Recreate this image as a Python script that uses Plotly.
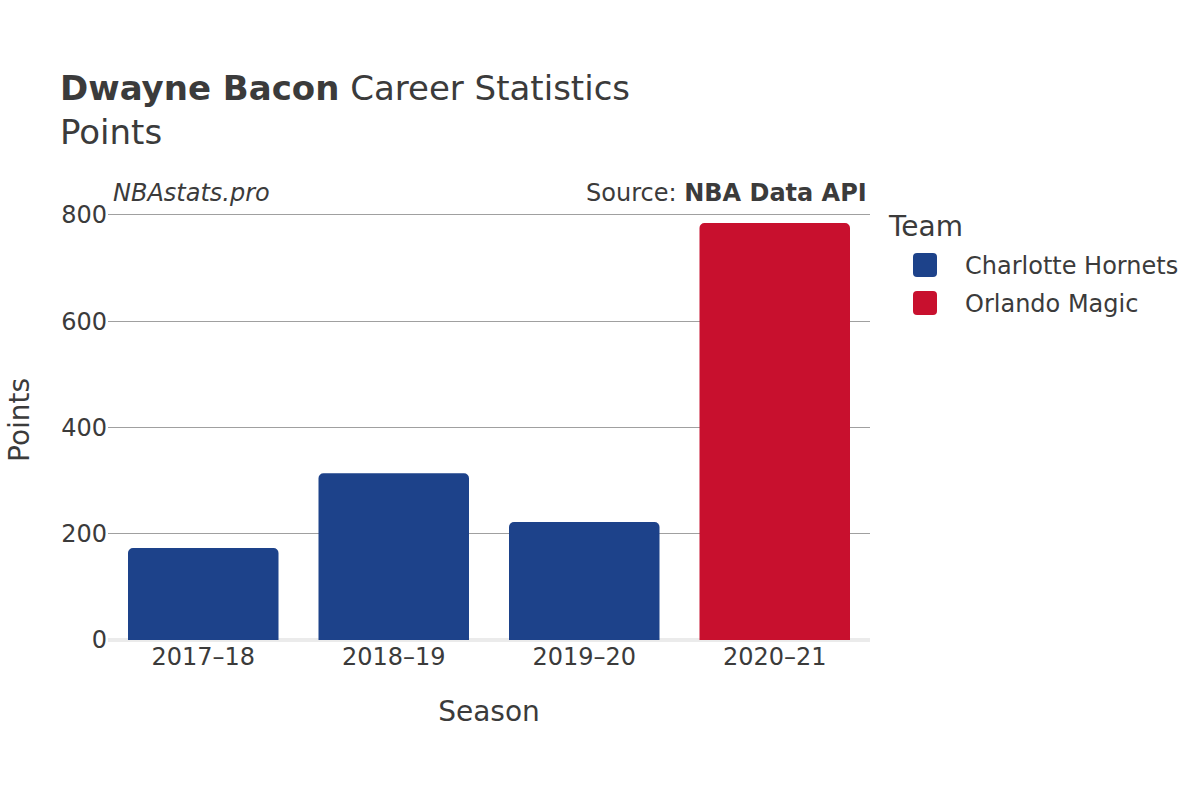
import plotly.graph_objects as go

seasons = ["2017–18", "2018–19", "2019–20", "2020–21"]
teams = ["Charlotte Hornets", "Charlotte Hornets", "Charlotte Hornets", "Orlando Magic"]
points = [173, 314, 222, 785]
team_names = ["Charlotte Hornets", "Orlando Magic"]
team_colors = {"Charlotte Hornets": "#1d428a", "Orlando Magic": "#c8102e"}
y_ticks = [0, 200, 400, 600, 800]

FONT = "DejaVu Sans"
TXT = "#3b3b3b"

OFF = 0  # page body margin removed via post_script
W, H = 1200 - OFF, 800 - OFF
PL, PR, PT, PB = 108, 870, 201, 640  # desired plot area in page pixels


def px(X):
    return (X - PL) / (PR - PL)


def py(Y):
    return (PB - Y) / (PB - PT)


fig = go.Figure()
for team in team_names:
    xs = [s for s, t in zip(seasons, teams) if t == team]
    ys = [p for p, t in zip(points, teams) if t == team]
    fig.add_trace(go.Bar(
        x=xs, y=ys, name=team, showlegend=False,
        marker=dict(color=team_colors[team], cornerradius=5, line=dict(width=0)),
    ))

# custom legend (larger symbols)
sq = ("M -8,-12 H 8 Q 12,-12 12,-8 V 8 Q 12,12 8,12 H -8 Q -12,12 -12,8 "
      "V -8 Q -12,-12 -8,-12 Z")
shapes = []
annotations = [
    dict(text="Team", x=px(886), y=py(226), xref="paper", yref="paper",
         xanchor="left", yanchor="middle", showarrow=False,
         font=dict(size=28, family=FONT, color=TXT)),
]
for i, team in enumerate(team_names):
    cy = [265, 303][i]
    shapes.append(dict(
        type="path", path=sq, xref="paper", yref="paper",
        xsizemode="pixel", ysizemode="pixel", xanchor=px(925), yanchor=py(cy),
        fillcolor=team_colors[team], line=dict(width=0),
    ))
    annotations.append(dict(
        text=team, x=px(963), y=py(cy + 1), xref="paper", yref="paper",
        xanchor="left", yanchor="middle", showarrow=False,
        font=dict(size=24, family=FONT, color=TXT)))

annotations += [
    dict(text="<i>NBAstats.pro</i>", x=0, xref="paper", xanchor="left", xshift=3,
         y=1, yref="paper", yanchor="bottom", yshift=-8, showarrow=False,
         font=dict(size=24, family=FONT, color=TXT)),
    dict(text="Source: <b>NBA Data API</b>", x=1, xref="paper", xanchor="right", xshift=-1,
         y=1, yref="paper", yanchor="bottom", yshift=-8, showarrow=False,
         font=dict(size=24, family=FONT, color=TXT)),
    # y-axis title
    dict(text="Points", x=px(19), y=py(420), xref="paper", yref="paper",
         xanchor="center", yanchor="middle", textangle=-90, showarrow=False,
         font=dict(size=28, family=FONT, color=TXT)),
]

fig.update_layout(
    width=W, height=H,
    barmode="overlay",
    bargap=0.21,
    plot_bgcolor="white", paper_bgcolor="white",
    font=dict(family=FONT, color=TXT, size=24),
    margin=dict(l=PL - OFF, r=W - (PR - OFF), t=PT - OFF, b=H - (PB - OFF), autoexpand=False),
    showlegend=False,
    title=dict(
        text="<b>Dwayne Bacon</b> Career Statistics<br>Points",
        x=(60 - OFF) / W, xanchor="left", xref="container",
        y=1 - (100 - OFF) / H, yanchor="top", yref="container",
        font=dict(size=34, family=FONT, color=TXT),
    ),
    xaxis=dict(
        categoryorder="array", categoryarray=seasons,
        title=dict(text="Season", font=dict(size=28), standoff=31),
        tickfont=dict(size=24), ticks="", showgrid=False, automargin=False,
    ),
    yaxis=dict(
        autorange=True, tickvals=y_ticks,
        tickfont=dict(size=24), automargin=False,
        showgrid=True, gridcolor="#a0a0a0", gridwidth=1,
        zeroline=True, zerolinecolor="#ebebeb", zerolinewidth=4,
        ticks="", showline=False,
    ),
    shapes=shapes,
    annotations=annotations,
)

fig.write_html(
    "out.html",
    config={"displayModeBar": False},
    post_script="document.body.style.margin='0';document.body.style.padding='0';",
)
